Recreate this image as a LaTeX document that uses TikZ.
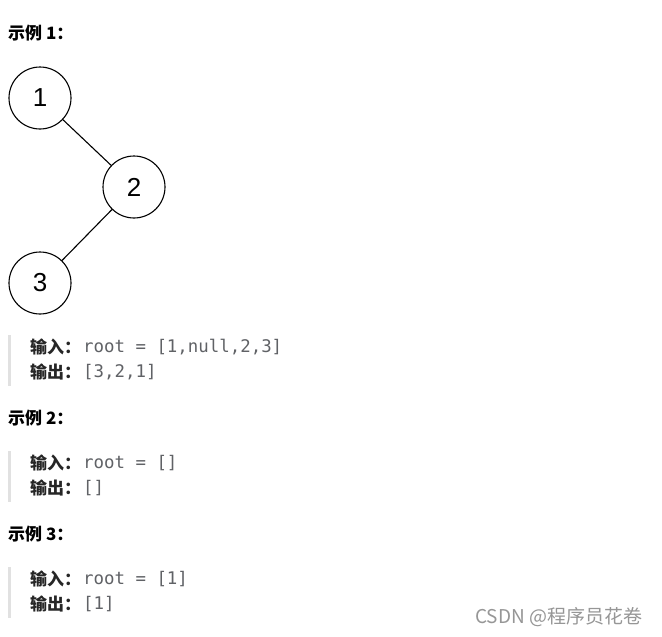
\documentclass[tikz,border=0pt]{standalone}
\usepackage{fontspec}
\setmainfont{Liberation Sans}
\newfontfamily\cjk{Noto Sans CJK SC}
\newfontfamily\codefont{DejaVu Sans Mono}
\definecolor{codegray}{RGB}{96,98,102}
\definecolor{bargray}{RGB}{225,225,225}
\definecolor{markgray}{RGB}{150,150,150}
\tikzset{
  treenode/.style={circle, draw, line width=1.1pt, minimum size=62pt, inner sep=0pt, font=\fontsize{26}{26}\selectfont},
  heading/.style={anchor=west, inner sep=0pt, font=\cjk\bfseries\fontsize{17}{17}\selectfont},
  label/.style={anchor=west, inner sep=0pt, font=\cjk\bfseries\fontsize{17}{17}\selectfont, text=black!85},
  code/.style={anchor=west, inner sep=0pt, font=\codefont\fontsize{17.4}{17.4}\selectfont, text=codegray},
  quotebar/.style={fill=bargray, draw=none}
}
\begin{document}
\begin{tikzpicture}[x=1pt, y=-1pt]
  \useasboundingbox[fill=white] (0,0) rectangle (662,637);

  % Example 1
  \node[heading] (h1) at (8,33) {示例 1：};
  \node[treenode] (n1) at (40,98) {1};
  \node[treenode] (n2) at (134,187) {2};
  \node[treenode] (n3) at (40,283) {3};
  \draw[line width=1.1pt] (n1) -- (n2);
  \draw[line width=1.1pt] (n2) -- (n3);

  \fill[quotebar] (8,335) rectangle (11,386);
  \node[label] (in1) at (30,347) {输入：};
  \node[code] (ci1) at (83,347) {root = [1,null,2,3]};
  \node[label] (out1) at (30,372) {输出：};
  \node[code] (co1) at (83,372) {[3,2,1]};

  % Example 2
  \node[heading] (h2) at (8,418) {示例 2：};
  \fill[quotebar] (8,451) rectangle (11,502);
  \node[label] (in2) at (30,463) {输入：};
  \node[code] (ci2) at (83,463) {root = []};
  \node[label] (out2) at (30,488) {输出：};
  \node[code] (co2) at (83,488) {[]};

  % Example 3
  \node[heading] (h3) at (8,534) {示例 3：};
  \fill[quotebar] (8,567) rectangle (11,618);
  \node[label] (in3) at (30,579) {输入：};
  \node[code] (ci3) at (83,579) {root = [1]};
  \node[label] (out3) at (30,604) {输出：};
  \node[code] (co3) at (83,604) {[1]};

  % watermark
  \node[anchor=west, inner sep=0pt, text=markgray, font=\cjk\fontsize{19}{19}\selectfont] (mark) at (475,617) {CSDN @程序员花卷};
\end{tikzpicture}
\end{document}
